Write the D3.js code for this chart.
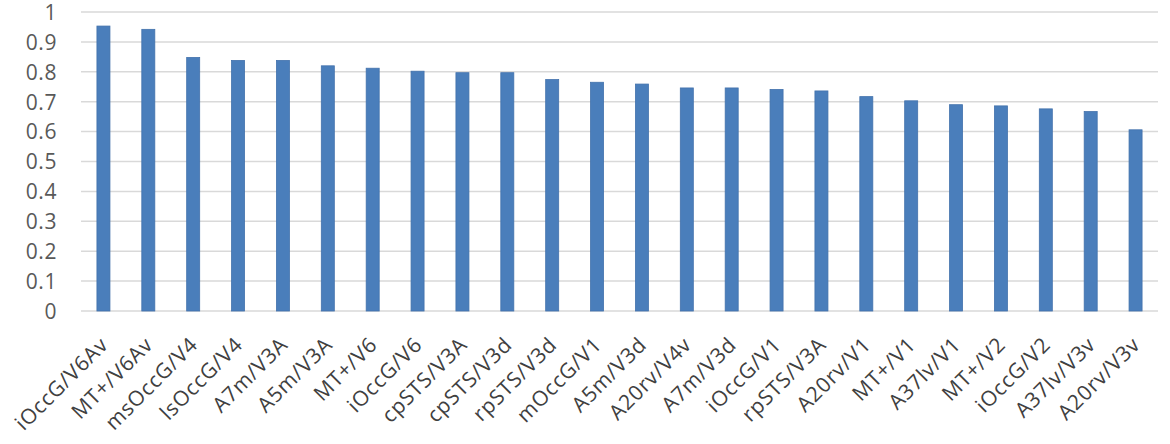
<!DOCTYPE html>
<html><head><meta charset="utf-8">
<script src="https://cdn.jsdelivr.net/npm/d3@7"></script>
<style>body{margin:0;background:#fff}svg{display:block}</style>
</head><body><svg id="c" width="1170" height="444"></svg>
<script>
const categories = ["iOccG/V6Av","MT+/V6Av","msOccG/V4","lsOccG/V4","A7m/V3A","A5m/V3A","MT+/V6","iOccG/V6","cpSTS/V3A","cpSTS/V3d","rpSTS/V3d","mOccG/V1","A5m/V3d","A20rv/V4v","A7m/V3d","iOccG/V1","rpSTS/V3A","A20rv/V1","MT+/V1","A37lv/V1","MT+/V2","iOccG/V2","A37lv/V3v","A20rv/V3v"];
const values = [0.953,0.942,0.848,0.838,0.838,0.820,0.812,0.802,0.797,0.797,0.774,0.765,0.759,0.746,0.746,0.741,0.736,0.717,0.703,0.690,0.686,0.676,0.667,0.606];
const yTicks = [0,0.1,0.2,0.3,0.4,0.5,0.6,0.7,0.8,0.9,1];

const svg = d3.select("#c");
const mLeft = 81, mRight = 1158, mTop = 12, mBottom = 311;
const x = d3.scaleBand().domain(categories).range([mLeft, mRight]).paddingInner(0.71).paddingOuter(0.355);
const y = d3.scaleLinear().domain([0, 1]).range([mBottom, mTop]);
const font = "'Open Sans', sans-serif";

// gridlines
svg.append("g").selectAll("line").data(yTicks).join("line")
  .attr("x1", mLeft).attr("x2", mRight)
  .attr("y1", d => y(d)).attr("y2", d => y(d))
  .attr("stroke", "#d9d9d9").attr("stroke-width", 1.5);

// y labels
const yAxis = d3.axisLeft(y).tickValues(yTicks).tickFormat(d3.format("~g")).tickSize(0).tickPadding(0);
const ga = svg.append("g").attr("transform", `translate(57,0)`).call(yAxis);
ga.select(".domain").remove();
ga.selectAll("text").attr("font-family", font).attr("font-size", 21).attr("letter-spacing", "0.6px")
  .attr("fill", "#595959").attr("dy", "0.35em");

// bars
svg.append("g").selectAll("rect").data(values).join("rect")
  .attr("x", (d, i) => x(categories[i]))
  .attr("width", x.bandwidth())
  .attr("y", d => y(d))
  .attr("height", d => y(0) - y(d))
  .attr("fill", "#4a7ebb")
  .attr("stroke", "#4372ac").attr("stroke-width", 0.8);

// x labels
const xAxis = d3.axisBottom(x).tickSize(0).tickPadding(0);
const gx = svg.append("g").attr("transform", `translate(0,${mBottom})`).call(xAxis);
gx.select(".domain").remove();
gx.selectAll("text")
  .attr("font-family", font).attr("font-size", 21).attr("letter-spacing", "0.8px").attr("fill", "#404040")
  .attr("text-anchor", "end")
  .attr("dy", 0)
  .attr("transform", "translate(6,35) rotate(-45)");
</script></body></html>
